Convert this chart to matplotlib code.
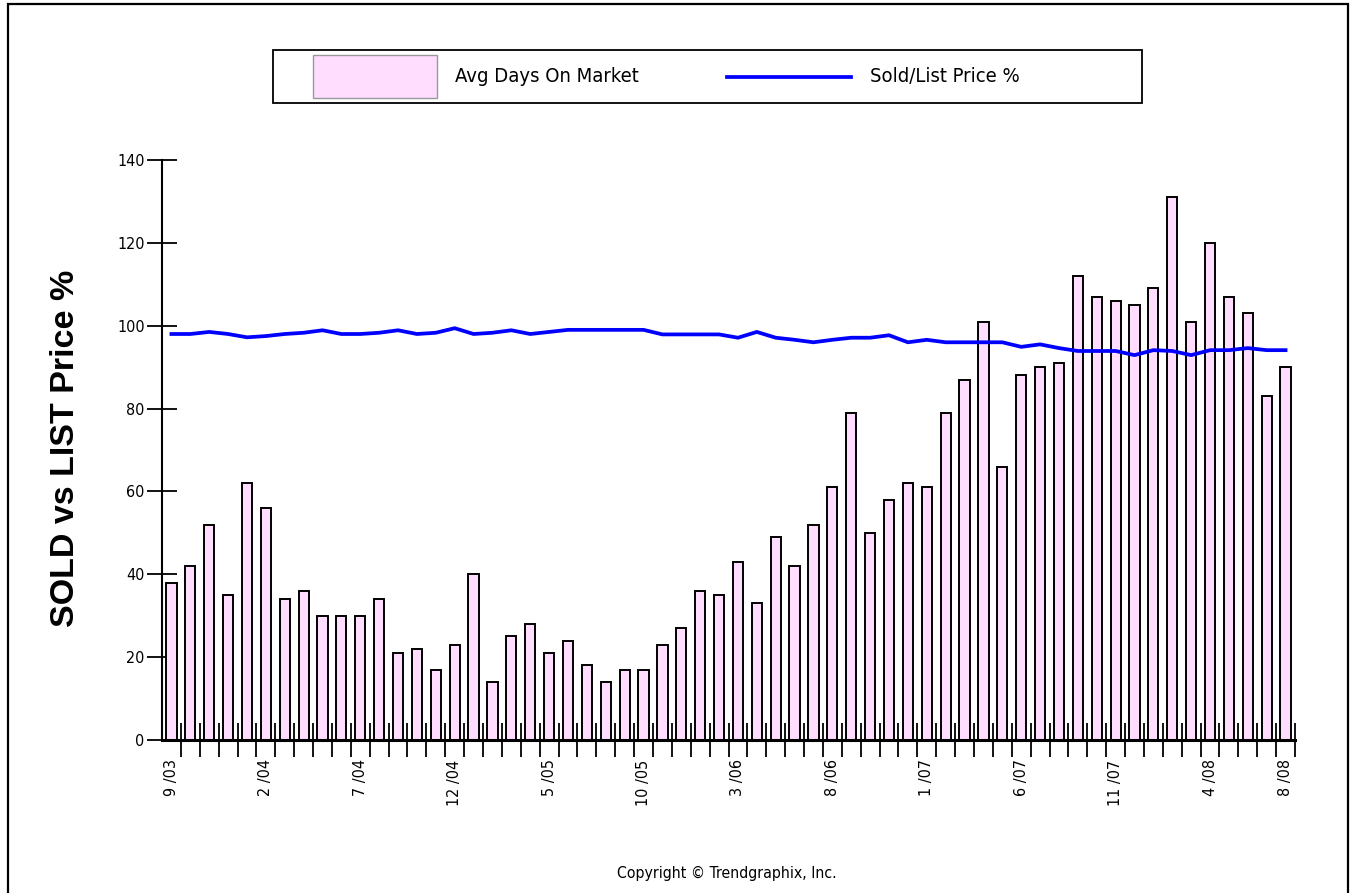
import matplotlib
matplotlib.use("Agg")
import matplotlib.pyplot as plt
from matplotlib.patches import Rectangle
from matplotlib.lines import Line2D
from matplotlib.ticker import FixedLocator

# Monthly data, 9/03 through 8/08
days_on_market = [38, 42, 52, 35, 62, 56, 34, 36, 30, 30,
                  30, 34, 21, 22, 17, 23, 40, 14, 25, 28,
                  21, 24, 18, 14, 17, 17, 23, 27, 36, 35,
                  43, 33, 49, 42, 52, 61, 79, 50, 58, 62,
                  61, 79, 87, 101, 66, 88, 90, 91, 112, 107,
                  106, 105, 109, 131, 101, 120, 107, 103, 83, 90]

sold_list_pct = [98.0, 98.0, 98.5, 98.0, 97.2, 97.5, 98.0, 98.3, 98.9, 98.0,
                 98.0, 98.3, 98.9, 98.0, 98.3, 99.4, 98.0, 98.3, 98.9, 98.0,
                 98.5, 99.0, 99.0, 99.0, 99.0, 99.0, 97.9, 97.9, 97.9, 97.9,
                 97.1, 98.5, 97.1, 96.6, 96.0, 96.6, 97.1, 97.1, 97.7, 96.0,
                 96.6, 96.0, 96.0, 96.0, 96.0, 94.9, 95.5, 94.6, 93.9, 93.9,
                 93.9, 92.9, 94.1, 93.9, 92.9, 94.1, 94.1, 94.6, 94.1, 94.1]

label_months = [1, 6, 11, 16, 21, 26, 31, 36, 41, 46, 51, 56, 60]
month_labels = ["9 /03", "2 /04", "7 /04", "12 /04", "5 /05", "10 /05", "3 /06",
                "8 /06", "1 /07", "6 /07", "11 /07", "4 /08", "8 /08"]

y_ticks = [0, 20, 40, 60, 80, 100, 120, 140]

narrow = dict(family="DejaVu Sans", stretch="condensed")
bar_color = "#FFDDFF"
line_color = "#0000FF"

W, H = 1351, 893
fig = plt.figure(figsize=(W / 100, H / 100), dpi=100)
fig.patch.set_facecolor("white")

ax = fig.add_axes([162 / W, 1 - 740 / H, (1295 - 162) / W, (740 - 160) / H])

months = list(range(1, len(days_on_market) + 1))
ax.bar(months, days_on_market, width=0.54, color=bar_color,
       edgecolor="black", linewidth=1.4, zorder=2)
ax.plot(months, sold_list_pct, color=line_color, linewidth=2.7, zorder=3)

ax.set_xlim(0.5, len(months) + 0.5)
ax.set_ylim(0, 140)

for side in ["top", "right"]:
    ax.spines[side].set_visible(False)
ax.spines["left"].set_linewidth(1.5)
ax.spines["bottom"].set_linewidth(2.2)
ax.spines["bottom"].set_zorder(4)

ax.set_yticks(y_ticks)
ax.set_yticklabels([str(v) for v in y_ticks], fontsize=11.5, **narrow)
ax.tick_params(axis="y", direction="inout", length=21, width=1.3, pad=2)

ax.xaxis.set_major_locator(FixedLocator(label_months))
ax.set_xticklabels(month_labels, rotation=90, fontsize=11.5, va="top", **narrow)
ax.xaxis.set_minor_locator(FixedLocator([m + 0.5 for m in months]))
ax.tick_params(axis="x", which="major", length=0, pad=14)
ax.tick_params(axis="x", which="minor", direction="inout", length=24.5, width=1.3)

# y label
fig.text(66 / W, 1 - 448 / H, "SOLD vs LIST Price %", rotation=90,
         ha="center", va="center", fontsize=24.5, fontweight="bold",
         family=["Liberation Sans", "DejaVu Sans"])

# legend box
fig.add_artist(Rectangle((273 / W, 1 - 103 / H), 869 / W, 53 / H,
                         transform=fig.transFigure, facecolor="white",
                         edgecolor="black", linewidth=1.3))
fig.add_artist(Rectangle((313 / W, 1 - 98 / H), 124 / W, 43 / H,
                         transform=fig.transFigure, facecolor=bar_color,
                         edgecolor="#999999", linewidth=1.0))
fig.text(455 / W, 1 - 77 / H, "Avg Days On Market", ha="left", va="center",
         fontsize=14.5, **narrow)
fig.add_artist(Line2D([727 / W, 851 / W], [1 - 77 / H, 1 - 77 / H],
                      transform=fig.transFigure, color=line_color, linewidth=2.7))
fig.text(870 / W, 1 - 77 / H, "Sold/List Price %", ha="left", va="center",
         fontsize=14.5, **narrow)

# copyright
fig.text(727 / W, 1 - 873 / H, "Copyright \u00a9 Trendgraphix, Inc.",
         ha="center", va="center", fontsize=11.3, **narrow)

# outer frame
fig.add_artist(Rectangle((8 / W, -0.02), (1348 - 8) / W, 1.02 - 4 / H,
                         transform=fig.transFigure, fill=False,
                         edgecolor="black", linewidth=1.6))

fig.savefig("out.png", dpi=100)
